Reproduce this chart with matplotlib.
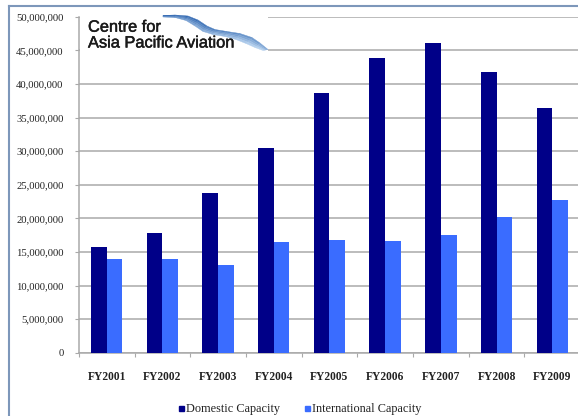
import numpy as np
import matplotlib
matplotlib.use("Agg")
import matplotlib.pyplot as plt
import matplotlib.patheffects as pe
from matplotlib.colors import to_rgb
from matplotlib.lines import Line2D
from matplotlib.patches import Polygon, Rectangle
from matplotlib.ticker import FuncFormatter, FixedLocator

# capacity by financial year
years = ['FY2001', 'FY2002', 'FY2003', 'FY2004', 'FY2005',
         'FY2006', 'FY2007', 'FY2008', 'FY2009']
domestic = [15.7e6, 17.85e6, 23.8e6, 30.4e6, 38.7e6, 43.85e6, 46.1e6, 41.75e6, 36.45e6]
international = [13.9e6, 14.0e6, 13.0e6, 16.4e6, 16.75e6, 16.6e6, 17.5e6, 20.15e6, 22.7e6]

DOM_COLOR = '#000088'
INT_COLOR = '#3a6cff'
GRID = '#a9a9a9'
SERIF = 'Liberation Serif'

W, H = 578, 416
fig = plt.figure(figsize=(W / 100, H / 100), dpi=100, facecolor='white')


def px(x, y):
    # pixel position (from top-left) to figure fraction
    return x / W, 1 - y / H


# plot area runs slightly past the right edge of the figure
left, bottom = px(78.8, 352.7)
_, top = px(0, 16.7)
ax = fig.add_axes([left, bottom, 501.3 / W, top - bottom])

x = np.arange(len(years))
bw = 0.282
ax.bar(x - bw / 2, domestic, bw, color=DOM_COLOR, zorder=3, label='Domestic Capacity')
ax.bar(x + bw / 2, international, bw, color=INT_COLOR, zorder=3, label='International Capacity')

ax.set_xlim(-0.5, len(years) - 0.5)
ax.set_ylim(0, 50e6)
ax.set_yticks(np.arange(0, 50e6 + 1, 5e6))
ax.yaxis.set_major_formatter(FuncFormatter(lambda v, p: f'{int(v):,}'))
ax.yaxis.grid(True, color=GRID, lw=1.1, zorder=0)

# tick marks between categories, labels at the centres
ax.xaxis.set_major_locator(FixedLocator(np.arange(-0.5, len(years), 1.0)))
ax.xaxis.set_minor_locator(FixedLocator(x))
ax.set_xticklabels([])
ax.set_xticklabels(years, minor=True)
ax.tick_params(axis='x', which='major', length=3, color=GRID, direction='out')
ax.tick_params(axis='x', which='minor', length=0, pad=13, labelsize=8.3)
ax.tick_params(axis='y', length=3, color=GRID, labelsize=7.7, pad=8)
for lab in ax.get_xticklabels(minor=True):
    lab.set_fontfamily(SERIF)
    lab.set_fontweight('bold')
    lab.set_color('#222222')
for lab in ax.get_yticklabels():
    lab.set_fontfamily(SERIF)
    lab.set_color('#222222')

for side in ['top', 'right']:
    ax.spines[side].set_visible(False)
ax.spines['left'].set_color(GRID)
ax.spines['bottom'].set_color(GRID)
ax.spines['left'].set_linewidth(1.1)
ax.spines['bottom'].set_linewidth(1.1)

# legend below the axis
handles = [Line2D([], [], marker='s', ls='', color=DOM_COLOR, markersize=3.6),
           Line2D([], [], marker='s', ls='', color=INT_COLOR, markersize=3.6)]
leg = fig.legend(handles, ['Domestic Capacity', 'International Capacity'],
                 loc='center', bbox_to_anchor=px(300, 409), ncol=2, frameon=False,
                 handlelength=0.4, handletextpad=0.25, columnspacing=2.0,
                 prop={'family': SERIF, 'size': 8.8})
for t in leg.get_texts():
    t.set_color('#222222')

# logo block over the top-left of the plot area
x0, y0 = px(80, 52)
x1, y1 = px(268, 10)
fig.patches.append(Rectangle((x0, y0), x1 - x0, y1 - y0, transform=fig.transFigure,
                             facecolor='white', edgecolor='none', zorder=5))

# swoosh ribbon: shaded quads between a top and a bottom edge
top_edge = np.array([(163, 15.5), (175, 15), (188, 16), (198, 20), (207, 26), (215, 29.5),
                     (227, 31.5), (240, 33.5), (252, 37.5), (260, 43), (268, 49.5)])
bot_edge = np.array([(163, 17), (175, 17.5), (186, 20.5), (195, 26), (203, 31.5), (213, 34.5),
                     (225, 36.5), (236, 39.5), (246, 43.5), (255, 47.5), (263, 50.5)])
dark = np.array(to_rgb('#1d58a8'))
light = np.array(to_rgb('#b8d3ef'))
n_across = 4
for i in range(len(top_edge) - 1):
    for j in range(n_across):
        s0, s1 = j / n_across, (j + 1) / n_across
        a0 = top_edge[i] + (bot_edge[i] - top_edge[i]) * s0
        a1 = top_edge[i + 1] + (bot_edge[i + 1] - top_edge[i + 1]) * s0
        b1 = top_edge[i + 1] + (bot_edge[i + 1] - top_edge[i + 1]) * s1
        b0 = top_edge[i] + (bot_edge[i] - top_edge[i]) * s1
        t = i / (len(top_edge) - 2)
        mix = min(1.0, 0.55 * t + 0.55 * (s0 + s1) / 2)
        col = dark + (light - dark) * mix
        fig.patches.append(Polygon([px(*p) for p in (a0, a1, b1, b0)], closed=True,
                                   transform=fig.transFigure, facecolor=col,
                                   edgecolor=col, lw=0.3, zorder=6))

thick = [pe.withStroke(linewidth=0.35, foreground='#1a1a1a')]
fig.text(*px(88, 31.7), 'Centre for', fontsize=11.8, family='Liberation Sans',
         color='#1a1a1a', va='baseline', zorder=7, path_effects=thick)
fig.text(*px(88, 47.5), 'Asia Pacific Aviation', fontsize=11.8, family='Liberation Sans',
         color='#1a1a1a', va='baseline', zorder=7, path_effects=thick)

# outer frame, left and top edges
frame = '#7d97ba'
fig.lines.append(Line2D([9 / W, 9 / W], [0, 1 - 6 / H], transform=fig.transFigure,
                        color=frame, lw=1.5))
fig.lines.append(Line2D([9 / W, 1], [1 - 6 / H, 1 - 6 / H], transform=fig.transFigure,
                        color=frame, lw=1.5))

fig.savefig('out.png', dpi=100, facecolor='white')
